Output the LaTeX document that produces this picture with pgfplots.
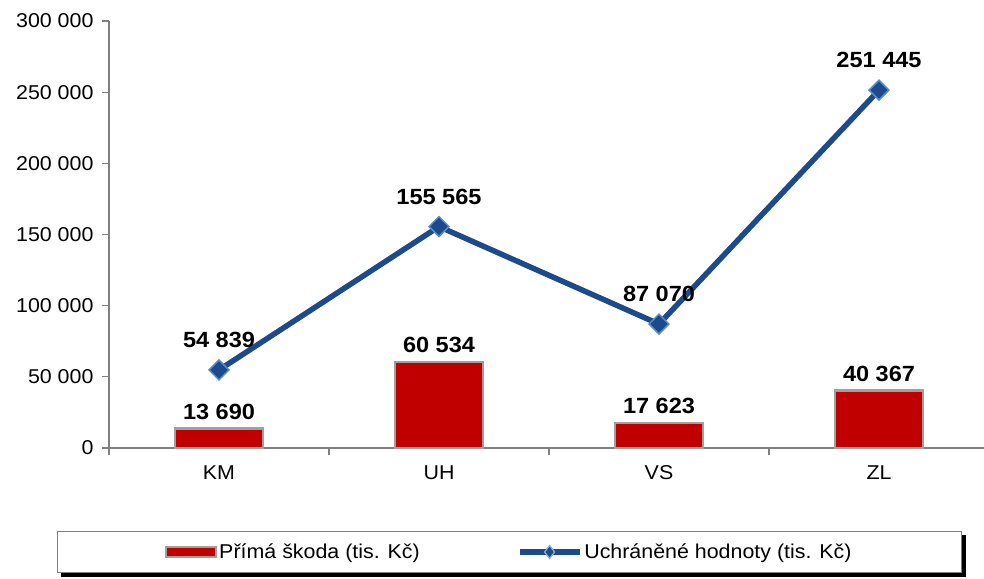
\documentclass[border=0pt]{standalone}
\usepackage{pgfplots}
\pgfplotsset{compat=1.18}
\usepackage{fontspec}
\setmainfont{Liberation Sans}[FakeStretch=1.07]
\pgfdeclarelayer{background}
\pgfsetlayers{background,main}
\definecolor{barred}{HTML}{C00000}
\definecolor{bargray}{HTML}{A0A0A0}
\definecolor{lineblue}{HTML}{1C4A8C}
\definecolor{markedge}{HTML}{5B8BC8}
\definecolor{axisgray}{HTML}{808080}
\begin{document}
\begin{tikzpicture}
\useasboundingbox (-109pt,-130pt) rectangle (875pt,448pt);
\begin{axis}[
  at={(0,0)}, anchor=south west,
  scale only axis, width=880pt, height=427pt,
  xmin=-0.5, xmax=3.5, ymin=0, ymax=300000,
  clip=false,
  axis x line*=bottom, axis y line*=left,
  axis line style={draw=axisgray, line width=1.2pt, -},
  every tick/.style={draw=axisgray, line width=1.2pt},
  tick align=outside, major tick length=7pt,
  xtick={-0.5,0.5,1.5,2.5,3.5},
  x tick label as interval,
  xticklabels={KM,UH,VS,ZL},
  xticklabel style={yshift=-7pt},
  ytick={0,50000,100000,150000,200000,250000,300000},
  scaled y ticks=false,
  yticklabel style={xshift=-5pt, /pgf/number format/.cd, fixed, precision=0, 1000 sep={\ }, assume math mode=true},
  tick label style={font=\fontsize{20pt}{22pt}\selectfont, text=black},
  legend columns=2,
  legend style={
    name=leg,
    at={(0.455,-0.2436)}, anchor=center,
    draw=axisgray, line width=1pt, fill=white,
    font=\fontsize{20pt}{22pt}\selectfont,
    inner xsep=108pt, inner ysep=10.5pt,
    /tikz/every even column/.append style={column sep=95pt},
  },
]
\addplot[ybar, bar width=88pt, fill=barred, draw=bargray, line width=2.5pt,
  nodes near coords, point meta=explicit symbolic,
  every node near coord/.append style={font=\fontsize{22pt}{24pt}\selectfont\bfseries, text=black, anchor=center, yshift=17pt},
  legend image code/.code={\draw[fill=barred, draw=bargray, line width=2pt] (0pt,-5pt) rectangle (50pt,5pt);}
] coordinates {
  (0,13690) [13 690]
  (1,60534) [60 534]
  (2,17623) [17 623]
  (3,40367) [40 367]
};
\addlegendentry{Přímá škoda (tis. Kč)}
\addplot[color=lineblue, line width=5.5pt, mark=square*,
  mark size=7pt, mark options={rotate=45, fill=lineblue, draw=markedge, line width=1.5pt},
  nodes near coords, point meta=explicit symbolic,
  every node near coord/.append style={font=\fontsize{22pt}{24pt}\selectfont\bfseries, text=black, anchor=center, yshift=30pt},
  legend image code/.code={
    \draw[color=lineblue, line width=5.5pt] (0pt,0pt) -- (60pt,0pt);
    \draw[fill=lineblue, draw=markedge!70!white, line width=1.2pt] (30pt,-6.5pt) -- (35pt,0pt) -- (30pt,6.5pt) -- (25pt,0pt) -- cycle;}
] coordinates {
  (0,54839) [54 839]
  (1,155565) [155 565]
  (2,87070) [87 070]
  (3,251445) [251 445]
};
\addlegendentry{Uchráněné hodnoty (tis. Kč)}
\end{axis}
\begin{pgfonlayer}{background}
\fill[black] ([shift={(4pt,-4pt)}]leg.south west) rectangle ([shift={(4pt,-4pt)}]leg.north east);
\end{pgfonlayer}
\end{tikzpicture}
\end{document}
